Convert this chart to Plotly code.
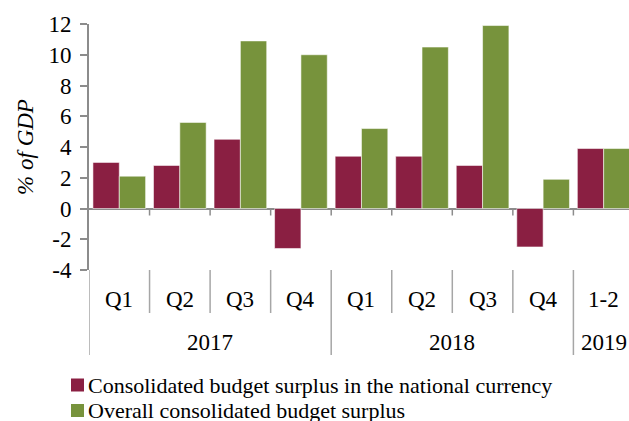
import plotly.graph_objects as go

# Quarterly consolidated budget balance, % of GDP
quarters = ["Q1", "Q2", "Q3", "Q4", "Q1", "Q2", "Q3", "Q4", "1-2"]
years = ["2017", "2018", "2019"]
year_spans = [4, 4, 1]  # number of periods under each year label
national_currency = [3.0, 2.8, 4.5, -2.6, 3.4, 3.4, 2.8, -2.5, 3.9]
overall = [2.1, 5.6, 10.9, 10.0, 5.2, 10.5, 11.9, 1.9, 3.9]
series_names = [
    "Consolidated budget surplus in the national currency",
    "Overall consolidated budget surplus",
]
y_ticks = [-4, -2, 0, 2, 4, 6, 8, 10, 12]
y_tick_text = [str(v) for v in y_ticks]

RED = "#8A1F42"
GREEN = "#77933C"
AXIS_GREY = "#8C8C8C"
DIV_GREY = "#A6A6A6"
FONT = "'Liberation Serif', 'Times New Roman', serif"

W, H = 629, 421
ML, MR, MT, MB = 89, 0, 24, 151
PW, PH = W - ML - MR, H - MT - MB


def py(px):
    """Pixel row -> paper y."""
    return (H - MB - px) / PH


def pxx(px):
    """Pixel column -> paper x."""
    return (px - ML) / PW


idx = list(range(len(quarters)))

fig = go.Figure()
for name, vals, col in [(series_names[0], national_currency, RED),
                        (series_names[1], overall, GREEN)]:
    fig.add_trace(go.Bar(
        x=idx, y=vals, name=name,
        marker=dict(color=col, line=dict(color="rgba(255,255,255,0.55)", width=1)),
        showlegend=False,
    ))

shapes = []
# small tick marks hanging from the zero line at period boundaries
for b in range(len(quarters) - 1):
    shapes.append(dict(type="line", xref="x", yref="y", x0=b + 0.5, x1=b + 0.5,
                       ysizemode="pixel", yanchor=0, y0=0, y1=-7,
                       line=dict(color=AXIS_GREY, width=1.5)))

# period separators and year dividers under the plot
year_bounds = [-0.5]
for s in year_spans:
    year_bounds.append(year_bounds[-1] + s)
for b in range(len(quarters)):
    xb = b - 0.5
    long = xb in year_bounds
    shapes.append(dict(type="line", xref="x", yref="paper", x0=xb, x1=xb,
                       y0=py(270), y1=py(355 if long else 313),
                       line=dict(color=DIV_GREY, width=1.5)))

annotations = []
for i, q in enumerate(quarters):
    annotations.append(dict(x=i, y=py(299), xref="x", yref="paper", text=q,
                            showarrow=False, xanchor="center", yanchor="middle",
                            font=dict(family=FONT, size=23, color="black")))
for k, yr in enumerate(years):
    xc = (year_bounds[k] + year_bounds[k + 1]) / 2
    annotations.append(dict(x=xc, y=py(342), xref="x", yref="paper", text=yr,
                            showarrow=False, xanchor="center", yanchor="middle",
                            font=dict(family=FONT, size=23, color="black")))

# legend drawn beneath the chart
for k, (name, col) in enumerate([(series_names[0], RED), (series_names[1], GREEN)]):
    cy = 385 + k * 25.5
    shapes.append(dict(type="rect", xref="paper", yref="paper",
                       x0=pxx(71), x1=pxx(84), y0=py(cy - 6.5), y1=py(cy + 6.5),
                       fillcolor=col, line=dict(width=0)))
    annotations.append(dict(x=pxx(86), y=py(cy), xref="paper", yref="paper",
                            text=name, showarrow=False, xanchor="left",
                            yanchor="middle",
                            font=dict(family=FONT, size=22, color="black")))

fig.update_layout(
    width=W, height=H,
    margin=dict(l=ML, r=MR, t=MT, b=MB, pad=0),
    paper_bgcolor="white", plot_bgcolor="white",
    barmode="group", bargap=0.13, bargroupgap=0,
    font=dict(family=FONT, size=23, color="black"),
    shapes=shapes, annotations=annotations,
    xaxis=dict(range=[-0.5, -0.5 + PW / 60.55], showticklabels=False,
               showgrid=False, zeroline=False, showline=False, ticks=""),
    yaxis=dict(range=[-4, 12], tickvals=y_ticks, ticktext=y_tick_text,
               showgrid=False,
               showline=True, linecolor=AXIS_GREY, linewidth=2,
               zeroline=True, zerolinecolor=AXIS_GREY, zerolinewidth=2,
               ticks="outside", ticklen=7, tickwidth=1.5, tickcolor=AXIS_GREY,
               ticklabelstandoff=4,
               tickfont=dict(family=FONT, size=23, color="black"),
               title=dict(text="<i>% of GDP</i>", standoff=8,
                          font=dict(family=FONT, size=23, color="black"))),
)

fig.write_html("out.html")
